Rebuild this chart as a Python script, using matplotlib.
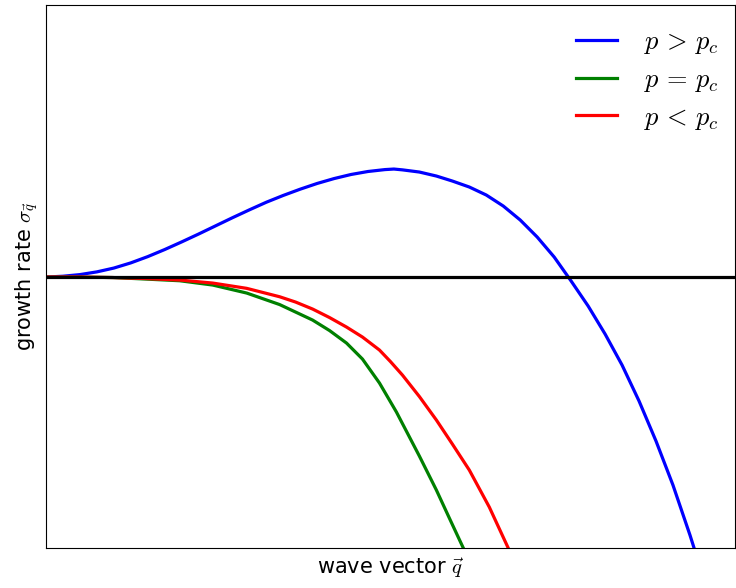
import numpy as np
import matplotlib
matplotlib.use('Agg')
import matplotlib.pyplot as plt

plt.rcParams['mathtext.fontset'] = 'cm'
plt.rcParams['font.family'] = 'DejaVu Sans'

# values (arbitrary units, zero line at y = 0)
q_above = [0, 0.246, 0.492, 0.738, 0.984, 1.23, 1.476, 1.722, 1.968, 2.214,
           2.46, 2.706, 2.952, 3.198, 3.444, 3.69, 3.936, 4.182, 4.428, 4.674,
           4.92, 5.05, 5.174, 5.42, 5.667, 5.899, 6.145, 6.391, 6.638, 6.884,
           7.13, 7.377, 7.623, 7.87, 8.116, 8.362, 8.609, 8.855, 9.101, 9.348,
           9.449]
s_above = [0, 0.03, 0.09, 0.19, 0.33, 0.52, 0.75, 1.01, 1.29, 1.58,
           1.88, 2.18, 2.47, 2.75, 3.00, 3.23, 3.44, 3.62, 3.77, 3.88,
           3.95, 3.97, 3.94, 3.86, 3.713, 3.529, 3.309, 3.015, 2.610, 2.096,
           1.471, 0.735, -0.147, -1.066, -2.096, -3.235, -4.559, -6.029, -7.647, -9.485,
           -10.294]

q_equal = [0, 0.478, 0.971, 1.449, 1.942, 2.420, 2.913, 3.391, 3.870, 4.116,
           4.362, 4.594, 4.841, 5.087, 5.420, 5.667, 5.855, 6.058, 6.116]
s_equal = [0, 0, -0.018, -0.074, -0.136, -0.294, -0.588, -1.011, -1.581, -1.967,
           -2.426, -3.015, -3.897, -4.963, -6.581, -7.831, -8.860, -9.963, -10.294]

q_below = [0, 0.478, 0.971, 1.449, 1.942, 2.420, 2.913, 3.391, 3.623, 3.870,
           4.116, 4.362, 4.594, 4.841, 5.000, 5.174, 5.420, 5.667, 5.899, 6.145,
           6.435, 6.710, 6.768]
s_below = [0, 0, -0.018, -0.055, -0.110, -0.221, -0.415, -0.724, -0.919, -1.176,
           -1.489, -1.838, -2.206, -2.684, -3.107, -3.603, -4.393, -5.257, -6.140, -7.096,
           -8.456, -9.963, -10.294]

labels = [r'$p\,>\,p_c$', r'$p\,=\,p_c$', r'$p\,<\,p_c$']

fig = plt.figure(figsize=(7.36, 5.88), dpi=100)
ax = fig.add_axes([0.0625, 0.068, 0.936, 0.9235])

ax.plot(q_above, s_above, color='blue', lw=2.3, label=labels[0])
ax.plot(q_equal, s_equal, color='green', lw=2.3, label=labels[1])
ax.plot(q_below, s_below, color='red', lw=2.3, label=labels[2])
ax.axhline(0, color='black', lw=2.3)

ax.set_xlim(0, 10)
ax.set_ylim(-9.96, 10)
ax.set_xticks([])
ax.set_yticks([])

ax.set_xlabel(r'wave vector $\vec{q}$', fontsize=15, labelpad=6)
ax.set_ylabel(r'growth rate $\sigma_{\vec{q}}$', fontsize=15, labelpad=4)

ax.legend(loc='upper right', bbox_to_anchor=(1.004, 0.989), frameon=False,
          fontsize=19, handlelength=1.55, handletextpad=1.05, labelspacing=0.4,
          borderaxespad=0.3)

fig.savefig('out.png', dpi=100)
